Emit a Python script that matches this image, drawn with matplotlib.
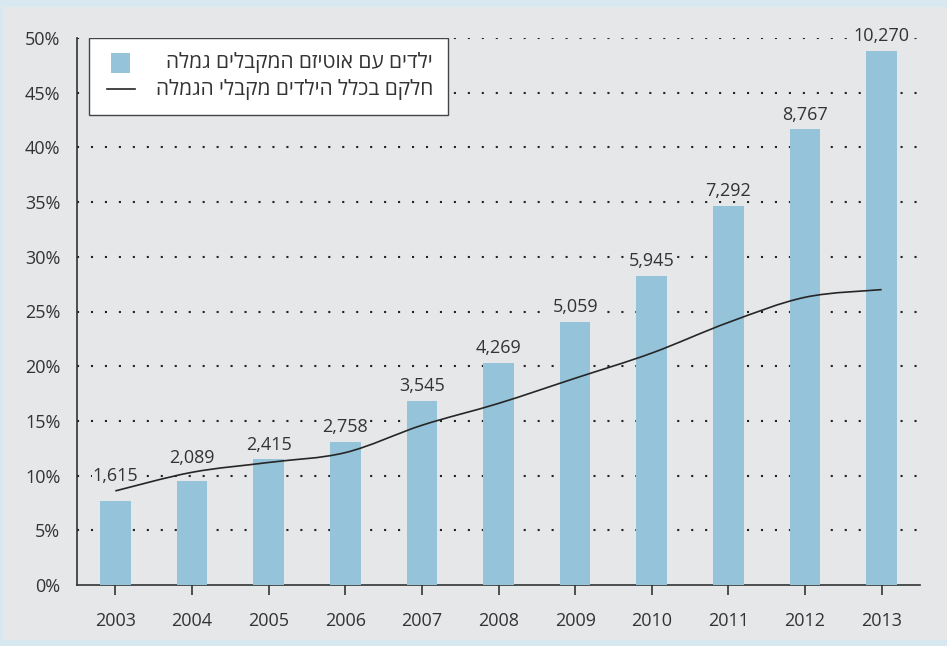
import numpy as np
import matplotlib
matplotlib.use('Agg')
import matplotlib.pyplot as plt
from matplotlib.path import Path
from matplotlib.patches import PathPatch, Rectangle
from matplotlib.lines import Line2D

years = ["2003", "2004", "2005", "2006", "2007", "2008",
         "2009", "2010", "2011", "2012", "2013"]
# bar heights as drawn (the 2004 bar is drawn lower than its printed label)
bar_counts = [1615, 2000, 2415, 2758, 3545, 4269, 5059, 5945, 7292, 8767, 10270]
bar_labels = ["1,615", "2,089", "2,415", "2,758", "3,545", "4,269",
              "5,059", "5,945", "7,292", "8,767", "10,270"]
share_pct = [8.6, 10.3, 11.2, 12.1, 14.6, 16.6, 18.9, 21.2, 24.0, 26.3, 27.0]
pct_ticks = [0, 5, 10, 15, 20, 25, 30, 35, 40, 45, 50]
legend_bars = "ילדים עם אוטיזם המקבלים גמלה"
legend_line = "חלקם בכלל הילדים מקבלי הגמלה"

plt.rcParams['font.family'] = ['Open Sans', 'DejaVu Sans']

BLUE = '#95c3da'
BG = '#e6e7e9'
TXT = '#333333'
COUNT_TOP = 10520  # count that lines up with the 50% gridline


def rtl(s):
    # matplotlib has no bidi support, so flip Hebrew by hand
    return s[::-1]


fig = plt.figure(figsize=(9.47, 6.46), dpi=100, facecolor='#d7e8f1')
fig.patches.append(Rectangle((3 / 947, 6 / 646), 944 / 947, 633 / 646,
                             transform=fig.transFigure, facecolor=BG,
                             edgecolor='none', zorder=-10))

ax = fig.add_axes([77 / 947, 61 / 646, 843 / 947, 547 / 646])
ax.set_facecolor('none')
x = np.arange(len(years))

ax.set_xlim(-0.5, len(years) - 0.5)
ax.set_ylim(0, 50)
ax.set_yticks(pct_ticks)
ax.set_yticklabels([f"{p}%" for p in pct_ticks])
ax.set_xticks(x)
ax.set_xticklabels(years)
for p in pct_ticks[1:]:
    ax.axhline(p, color='#222222', lw=1.5, ls=(0, (1, 5.7)),
               dash_capstyle='butt', zorder=1)

for s in ['top', 'right']:
    ax.spines[s].set_visible(False)
for s in ['left', 'bottom']:
    ax.spines[s].set_color(TXT)
    ax.spines[s].set_linewidth(1.2)
ax.tick_params(axis='y', length=0, pad=12, labelsize=13, labelcolor=TXT)
ax.tick_params(axis='x', length=7.5, width=1.2, color=TXT, pad=12,
               labelsize=13, labelcolor=TXT)

# bars on a hidden twin axis in counts
ax2 = ax.twinx()
ax2.set_ylim(0, COUNT_TOP)
ax2.set_xlim(-0.5, len(years) - 0.5)
ax2.axis('off')
ax2.bar(x, bar_counts, width=0.4, color=BLUE, zorder=2)

# smooth line of the share, drawn over the bars in percent units
pts = np.column_stack([x, share_pct]).astype(float)
ext = np.vstack([pts[0], pts, pts[-1]])
verts = [tuple(pts[0])]
codes = [Path.MOVETO]
for i in range(len(pts) - 1):
    p0, p1, p2, p3 = ext[i], ext[i + 1], ext[i + 2], ext[i + 3]
    verts += [tuple(p1 + (p2 - p0) / 6), tuple(p2 - (p3 - p1) / 6), tuple(p2)]
    codes += [Path.CURVE4] * 3
ax2.add_patch(PathPatch(Path(verts, codes), facecolor='none',
                        edgecolor='#262626', lw=1.2, transform=ax.transData,
                        zorder=4))

# value labels above whichever is higher, bar or line
for xi, n, lab, sp in zip(x, bar_counts, bar_labels, share_pct):
    top = max(n / COUNT_TOP * 50, sp)
    ax2.annotate(lab, xy=(xi, top), xycoords=ax.transData,
                 xytext=(0, 4), textcoords='offset points', ha='center',
                 va='bottom', fontsize=13, color=TXT, zorder=3,
                 bbox=dict(boxstyle='square,pad=0.05', fc=BG, ec='none'))

# legend built by hand so the Hebrew text sits flush right
ax2.add_patch(Rectangle((0.0142, 0.859), 0.4258, 0.141,
                        transform=ax2.transAxes, facecolor='white',
                        edgecolor='#444444', lw=1.0, zorder=5))
ax2.add_patch(Rectangle((0.0403, 0.936), 0.0226, 0.0366,
                        transform=ax2.transAxes, facecolor=BLUE,
                        edgecolor='none', zorder=6))
ax2.add_line(Line2D([0.0356, 0.0688], [0.9068, 0.9068],
                    transform=ax2.transAxes, color='#262626', lw=1.2,
                    zorder=6))
ax2.text(0.4223, 0.955, rtl(legend_bars), transform=ax2.transAxes,
         ha='right', va='center', fontsize=15, color=TXT, zorder=6)
ax2.text(0.4223, 0.905, rtl(legend_line), transform=ax2.transAxes,
         ha='right', va='center', fontsize=15, color=TXT, zorder=6)

fig.savefig("out.png", dpi=100, facecolor=fig.get_facecolor())
